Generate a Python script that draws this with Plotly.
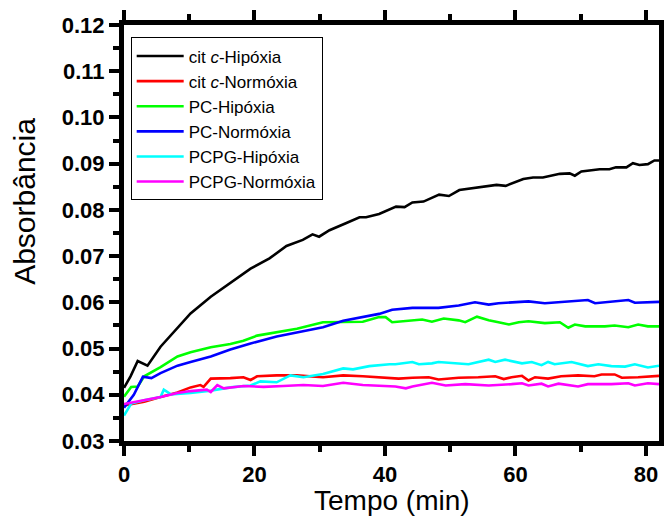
import plotly.graph_objects as go

# ---- data ----
labels = ["cit <i>c</i>-Hipóxia", "cit <i>c</i>-Normóxia", "PC-Hipóxia",
          "PC-Normóxia", "PCPG-Hipóxia", "PCPG-Normóxia"]
colors = ["#000000", "#ff0000", "#00ff00", "#0000ff", "#00ffff", "#ff00ff"]

cit_hip_x = [0, 1, 2.1, 3.6, 5.6, 8.2, 10.2, 13.3, 16.8, 19.4, 22.3, 24.9, 27.4, 28.9, 29.9,
             31.5, 34, 36.1, 37.1, 39.1, 41.7, 43, 44.2, 45.9, 48.3, 49.8, 51.4, 52.9, 55,
             57.1, 58.5, 61.2, 62.7, 64.2, 66.8, 68.3, 69.1, 70.1, 72.9, 74.4, 75.4, 77, 78,
             79, 80.3, 81.3, 82]
cit_hip_y = [0.0415, 0.0440, 0.0473, 0.0463, 0.0504, 0.0544, 0.0576, 0.0612, 0.0648, 0.0673,
             0.0695, 0.0722, 0.0735, 0.0747, 0.0742, 0.0756, 0.0771, 0.0784, 0.0784, 0.0791,
             0.0807, 0.0806, 0.0816, 0.0818, 0.0833, 0.0830, 0.0843, 0.0846, 0.0849, 0.0854,
             0.0852, 0.0867, 0.0870, 0.0870, 0.0878, 0.0879, 0.0874, 0.0883, 0.0888, 0.0888,
             0.0892, 0.0892, 0.0901, 0.0897, 0.0899, 0.0907, 0.0907]

cit_nor_x = [0, 1.1, 3.1, 5.6, 8.2, 10.2, 11.7, 12.2, 13.3, 16.3, 18.3, 19.4, 20.4, 23.4, 26.5,
             30.5, 33.6, 36.6, 39.2, 42.1, 44.2, 46.7, 48.2, 51.3, 54.3, 56.9, 58.2, 59.4, 61,
             62, 63, 65, 67, 69.6, 72.1, 73.2, 75.2, 76.3, 78.8, 82]
cit_nor_y = [0.0377, 0.0380, 0.0385, 0.0395, 0.0405, 0.0416, 0.0421, 0.0417, 0.0435, 0.0436,
             0.0438, 0.0432, 0.0440, 0.0442, 0.0442, 0.0438, 0.0442, 0.0440, 0.0438, 0.0435,
             0.0437, 0.0438, 0.0433, 0.0437, 0.0438, 0.0440, 0.0434, 0.0438, 0.0441, 0.0431,
             0.0438, 0.0435, 0.0440, 0.0442, 0.0440, 0.0444, 0.0444, 0.0437, 0.0438, 0.0441]

pc_hip_x = [0, 1.1, 2.1, 3.1, 5.6, 8.2, 10.2, 13.3, 16.3, 18.3, 20.4, 23.4, 26.5, 30.5, 33.6,
            36.6, 39.1, 40.1, 41.1, 44.2, 45.7, 47.2, 49, 51.3, 52.3, 54.1, 55.9, 57.4, 59,
            60.5, 62, 64.5, 66.8, 68.1, 69.1, 70.7, 73.7, 75.2, 77.3, 78.8, 80.3, 82]
pc_hip_y = [0.0396, 0.0417, 0.0418, 0.0440, 0.0460, 0.0483, 0.0492, 0.0503, 0.0510, 0.0517,
            0.0528, 0.0535, 0.0543, 0.0557, 0.0557, 0.0558, 0.0568, 0.0568, 0.0557, 0.0561,
            0.0563, 0.0558, 0.0565, 0.0561, 0.0557, 0.0569, 0.0561, 0.0557, 0.0552, 0.0557,
            0.0559, 0.0555, 0.0557, 0.0545, 0.0552, 0.0548, 0.0548, 0.0550, 0.0546, 0.0552,
            0.0548, 0.0548]

pc_nor_x = [0, 1.5, 2.9, 4.2, 5.6, 8.2, 10.2, 13.3, 16.3, 19.4, 23.4, 26.5, 30.5, 33.6, 36.6,
            39.1, 41.1, 44.2, 48.2, 51.3, 53.8, 55.9, 57.4, 62, 64.5, 67.6, 71.1, 72.2, 74.7,
            77.3, 78.3, 82]
pc_nor_y = [0.0372, 0.0400, 0.0439, 0.0436, 0.0447, 0.0463, 0.0471, 0.0483, 0.0498, 0.0511,
            0.0526, 0.0535, 0.0546, 0.0560, 0.0568, 0.0575, 0.0584, 0.0588, 0.0588, 0.0593,
            0.0600, 0.0595, 0.0598, 0.0602, 0.0598, 0.0601, 0.0605, 0.0598, 0.0602, 0.0605,
            0.0599, 0.0601]

pcpg_hip_x = [0, 1.1, 3.1, 5.6, 6.1, 7.2, 10.2, 13.3, 16.3, 19.4, 20.9, 23.4, 25.5, 27.5, 30.5,
              33.6, 35.1, 37.6, 40.7, 41.6, 44.2, 45.2, 47.2, 48.2, 52.8, 53.8, 55.9, 56.9,
              58.4, 61, 62.5, 64, 65, 66, 68.6, 71.1, 72.7, 74.7, 76.8, 78.3, 80.3, 82]
pcpg_hip_y = [0.0355, 0.0381, 0.0388, 0.0395, 0.0411, 0.0401, 0.0404, 0.0409, 0.0416, 0.0420,
              0.0429, 0.0427, 0.0442, 0.0438, 0.0445, 0.0457, 0.0455, 0.0462, 0.0466, 0.0466,
              0.0471, 0.0466, 0.0468, 0.0471, 0.0466, 0.0469, 0.0476, 0.0471, 0.0476, 0.0468,
              0.0471, 0.0464, 0.0471, 0.0466, 0.0471, 0.0462, 0.0466, 0.0462, 0.0461, 0.0466,
              0.0459, 0.0463]

pcpg_nor_x = [0, 3.1, 5.6, 8.2, 10.2, 12.7, 13.3, 14.3, 15.3, 18.3, 21.4, 24.4, 27.5, 30.5,
              33.6, 36.6, 39.5, 41.6, 43.2, 44.2, 47.2, 49.3, 52.3, 55.9, 59.4, 61, 62, 64,
              65, 66.6, 69.6, 71.1, 74.7, 77.3, 78.3, 80.3, 82]
pcpg_nor_y = [0.0380, 0.0388, 0.0395, 0.0404, 0.0408, 0.0411, 0.0406, 0.0421, 0.0414, 0.0419,
              0.0417, 0.0419, 0.0421, 0.0419, 0.0426, 0.0421, 0.0420, 0.0418, 0.0414, 0.0418,
              0.0426, 0.0420, 0.0423, 0.0420, 0.0423, 0.0425, 0.0420, 0.0424, 0.0418, 0.0424,
              0.0418, 0.0423, 0.0423, 0.0425, 0.0420, 0.0425, 0.0423]

series_x = [cit_hip_x, cit_nor_x, pc_hip_x, pc_nor_x, pcpg_hip_x, pcpg_nor_x]
series_y = [cit_hip_y, cit_nor_y, pc_hip_y, pc_nor_y, pcpg_hip_y, pcpg_nor_y]

x_range = [0, 82]
y_range = [0.03, 0.12]
x_ticks = [0, 20, 40, 60, 80]
y_ticks = [0.03, 0.04, 0.05, 0.06, 0.07, 0.08, 0.09, 0.10, 0.11, 0.12]
x_title = "Tempo (min)"
y_title = "Absorbância"

FONT = "Liberation Sans"

fig = go.Figure()
for name, xs, ys, c in zip(labels, series_x, series_y, colors):
    fig.add_trace(go.Scatter(x=xs, y=ys, mode="lines", name=name,
                             line=dict(color=c, width=2.6)))

axis_common = dict(
    showline=True, linecolor="black", linewidth=5, mirror="allticks",
    ticks="outside", ticklen=10, tickwidth=3.5, tickcolor="black",
    showgrid=False, zeroline=False, automargin=False,
    tickfont=dict(family=FONT, size=22, color="black", weight=700),
)

fig.update_xaxes(range=x_range, tickmode="array", tickvals=x_ticks,
                 ticktext=[f"{v}" for v in x_ticks],
                 minor=dict(dtick=10, tick0=0, ticklen=6, tickwidth=3.5, tickcolor="black",
                            ticks="outside"),
                 **axis_common)
fig.update_yaxes(range=y_range, tickmode="array", tickvals=y_ticks,
                 ticktext=[f"{v:.2f}" for v in y_ticks],
                 minor=dict(dtick=0.005, tick0=0.03, ticklen=6, tickwidth=3.5, tickcolor="black",
                            ticks="outside"),
                 **axis_common)

# axis titles as annotations for exact placement
fig.add_annotation(text=x_title, xref="paper", yref="paper", x=0.5, y=-0.143,
                   xanchor="center", yanchor="middle", showarrow=False,
                   font=dict(family=FONT, size=28, color="black"))
fig.add_annotation(text=y_title, xref="paper", yref="paper", x=-0.185, y=0.575,
                   xanchor="center", yanchor="middle", textangle=-90, showarrow=False,
                   font=dict(family=FONT, size=30, color="black"))

fig.update_layout(
    width=664, height=517,
    margin=dict(l=124, r=5, t=25, b=76),
    paper_bgcolor="white", plot_bgcolor="white",
    legend=dict(x=0.0125, y=0.97, xanchor="left", yanchor="top",
                bordercolor="black", borderwidth=1, bgcolor="white",
                font=dict(family=FONT, size=17, color="black"),
                itemwidth=47, tracegroupgap=0),
    showlegend=True,
)

fig.write_html("out.html")
